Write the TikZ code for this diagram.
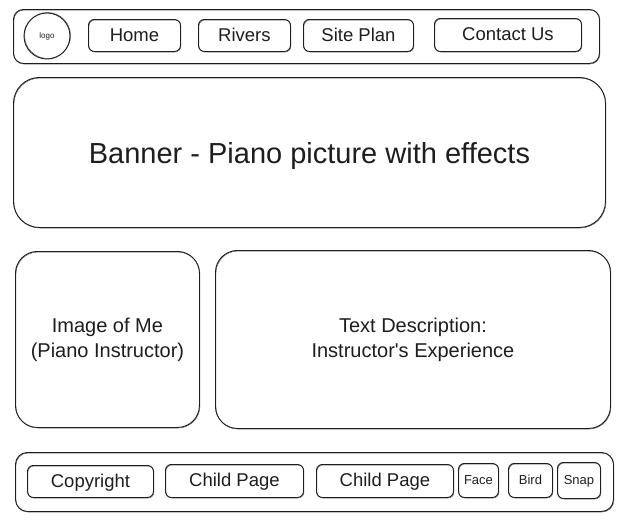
\documentclass[tikz,border=0pt]{standalone}
\usepackage{fontspec}
\setmainfont{Liberation Sans}
\definecolor{ink}{HTML}{1E1E1E}
\begin{document}
\begin{tikzpicture}[x=1pt,y=-1pt,
  sketch/.style={draw=ink, line width=0.9pt, rounded corners=#1,
    preaction={draw=ink!75, line width=0.45pt,
      transform canvas={shift={(0.5pt,-0.6pt)}}}},
  box/.style={sketch=#1, anchor=north west, inner sep=0pt, align=center, text=ink},
  navtext/.style={font=\fontsize{18.5}{20}\selectfont, text height=14pt, text depth=2pt},
  midtext/.style={font=\fontsize{20}{25}\selectfont},
  smalltext/.style={font=\fontsize{13}{14}\selectfont, text height=10pt, text depth=1.5pt},
]
\fill[white] (0,0) rectangle (644,520);
\useasboundingbox (0,0) rectangle (644,520);

% navigation bar
\node[box=10, minimum width=586pt, minimum height=54pt] (nav) at (13,9) {};
\node[circle, draw=ink, line width=0.9pt, minimum size=46pt, inner sep=0pt,
      preaction={draw=ink!75, line width=0.45pt, transform canvas={shift={(0.6pt,0.5pt)}}},
      font=\fontsize{8}{9}\selectfont, text=ink] (logo) at (47,36) {logo};
\node[box=6, navtext, minimum width=92pt, minimum height=32pt] (home) at (88,19) {Home};
\node[box=6, navtext, minimum width=92pt, minimum height=32pt] (rivers) at (198,19) {Rivers};
\node[box=6, navtext, minimum width=110pt, minimum height=32pt] (siteplan) at (303,19) {Site Plan};
\node[box=6, navtext, minimum width=147pt, minimum height=33pt] (contact) at (434,18) {Contact Us};

% banner
\node[box=26, minimum width=592pt, minimum height=150pt] (banner) at (13,77) {};
\node[font=\fontsize{29}{32}\selectfont, text=ink] (bannertext) at ([yshift=-4pt]banner.center)
  {Banner - Piano picture with effects};

% content row
\node[box=22, midtext, minimum width=184pt, minimum height=176pt] (image) at (15,251)
  {Image of Me\\(Piano Instructor)};
\node[box=22, midtext, minimum width=395pt, minimum height=178pt] (desc) at (215,250)
  {Text Description:\\Instructor\textquotesingle s Experience};

% footer
\node[box=12, minimum width=598pt, minimum height=59pt] (footer) at (15,452) {};
\node[box=6, navtext, minimum width=126pt, minimum height=32pt] (copyright) at (27,465) {Copyright};
\node[box=6, navtext, minimum width=138pt, minimum height=33pt] (child1) at (165,464) {Child Page};
\node[box=6, navtext, minimum width=137pt, minimum height=33pt] (child2) at (316,464) {Child Page};
\node[box=6, smalltext, minimum width=40pt, minimum height=34pt] (face) at (458,463) {Face};
\node[box=6, smalltext, minimum width=44pt, minimum height=34pt] (bird) at (508,463) {Bird};
\node[box=6, smalltext, minimum width=43pt, minimum height=36pt] (snap) at (557,462) {Snap};
\end{tikzpicture}
\end{document}
